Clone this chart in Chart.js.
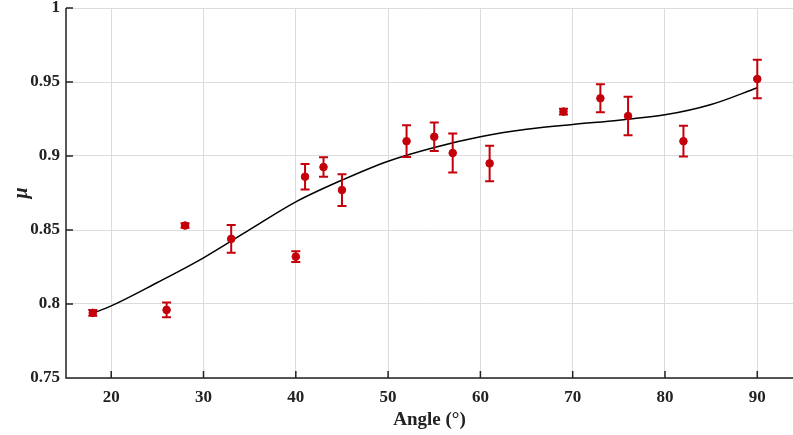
<!DOCTYPE html>
<html>
<head>
<meta charset="utf-8">
<script src="https://cdn.jsdelivr.net/npm/chart.js@4/dist/chart.umd.min.js"></script>
<style>
html,body{margin:0;padding:0;background:#fff;}
#wrap{width:793px;height:435px;position:relative;overflow:hidden;}
</style>
</head>
<body>
<div id="wrap"><canvas id="c" width="793" height="435"></canvas></div>
<script>
// Measured data (angle in degrees, friction coefficient mu, +/- error)
const angles = [18, 26, 28, 33, 40, 41, 43, 45, 52, 55, 57, 61, 69, 73, 76, 82, 90];
const muValues = [0.794, 0.796, 0.853, 0.844, 0.832, 0.886, 0.8925, 0.877, 0.910, 0.913, 0.902, 0.895, 0.930, 0.939, 0.927, 0.910, 0.952];
const muErrors = [0.002, 0.005, 0.0015, 0.0093, 0.0036, 0.0086, 0.0066, 0.0107, 0.0107, 0.0097, 0.0132, 0.012, 0.002, 0.0095, 0.013, 0.0104, 0.013];

// Fitted curve
const fitAngles = [18, 20, 25, 30, 35, 40, 45, 50, 55, 60, 65, 70, 75, 80, 85, 90];
const fitValues = [0.7938, 0.7987, 0.8145, 0.8312, 0.8502, 0.869, 0.8837, 0.8965, 0.9058, 0.913, 0.918, 0.9213, 0.9242, 0.9278, 0.9348, 0.9461];

// Axis ticks
const xTicks = [20, 30, 40, 50, 60, 70, 80, 90];
const yTicks = [0.75, 0.8, 0.85, 0.9, 0.95, 1];

const RED = '#c4000b';
const FONT = "'Liberation Serif', 'Times New Roman', serif";

const stretchRightPlugin = {
  id: 'stretchRight',
  afterLayout(chart) {
    const xs = chart.scales.x;
    const right = chart.width;
    xs.right = right;
    xs.width = right - xs.left;
    xs.configure();
    chart.chartArea.right = right;
    chart.chartArea.width = right - chart.chartArea.left;
  }
};

const errorBarPlugin = {
  id: 'errorBars',
  afterDatasetsDraw(chart) {
    const ctx = chart.ctx, xs = chart.scales.x, ys = chart.scales.y;
    ctx.save();
    ctx.strokeStyle = RED;
    ctx.lineWidth = 2;
    const cap = 4.5;
    angles.forEach((a, i) => {
      const px = xs.getPixelForValue(a);
      const top = ys.getPixelForValue(muValues[i] + muErrors[i]);
      const bot = ys.getPixelForValue(muValues[i] - muErrors[i]);
      ctx.beginPath();
      ctx.moveTo(px, top); ctx.lineTo(px, bot);
      ctx.moveTo(px - cap, top); ctx.lineTo(px + cap, top);
      ctx.moveTo(px - cap, bot); ctx.lineTo(px + cap, bot);
      ctx.stroke();
    });
    ctx.restore();
  }
};

const axesPlugin = {
  id: 'innerAxes',
  afterDraw(chart) {
    const ctx = chart.ctx, xs = chart.scales.x, ys = chart.scales.y, a = chart.chartArea;
    ctx.save();
    ctx.strokeStyle = '#222';
    ctx.lineWidth = 1.5;
    ctx.beginPath();
    ctx.moveTo(a.left, a.top); ctx.lineTo(a.left, a.bottom); ctx.lineTo(a.right, a.bottom);
    xTicks.forEach(t => { const p = xs.getPixelForValue(t); ctx.moveTo(p, a.bottom); ctx.lineTo(p, a.bottom - 7); });
    yTicks.forEach(t => { const p = ys.getPixelForValue(t); ctx.moveTo(a.left, p); ctx.lineTo(a.left + 7, p); });
    ctx.stroke();
    ctx.restore();
  }
};

new Chart(document.getElementById('c'), {
  type: 'scatter',
  data: {
    datasets: [
      {
        label: 'fit',
        type: 'line',
        data: fitAngles.map((x, i) => ({x, y: fitValues[i]})),
        borderColor: '#000',
        borderWidth: 1.5,
        pointRadius: 0,
        fill: false,
        cubicInterpolationMode: 'monotone',
        order: 2
      },
      {
        label: 'data',
        data: angles.map((x, i) => ({x, y: muValues[i]})),
        backgroundColor: RED,
        borderColor: RED,
        pointRadius: 3.8,
        pointHoverRadius: 3.8,
        order: 1
      }
    ]
  },
  options: {
    responsive: false,
    animation: false,
    events: [],
    layout: {padding: {top: 8, right: 0, left: 0, bottom: 0}},
    plugins: {legend: {display: false}, tooltip: {enabled: false}},
    scales: {
      x: {
        type: 'linear',
        min: 15.1,
        max: 93.87,
        afterBuildTicks: s => { s.ticks = xTicks.map(v => ({value: v})); },
        afterFit: s => { s.height = 57; s.paddingLeft = 0; s.paddingRight = 0; },
        grid: {color: '#dcdcdc', lineWidth: 1, drawTicks: false},
        border: {display: false},
        ticks: {color: '#222', padding: 9, font: {family: FONT, size: 17, weight: 'bold'}, maxRotation: 0},
        title: {display: true, text: 'Angle (°)', color: '#222', padding: {top: 2}, font: {family: FONT, size: 19, weight: 'bold'}}
      },
      y: {
        type: 'linear',
        min: 0.75,
        max: 1,
        afterBuildTicks: s => { s.ticks = yTicks.map(v => ({value: v})); },
        afterFit: s => { s.width = 66; s.paddingTop = 0; s.paddingBottom = 0; },
        grid: {color: '#dcdcdc', lineWidth: 1, drawTicks: false},
        border: {display: false},
        ticks: {color: '#222', padding: 6, font: {family: FONT, size: 17, weight: 'bold'},
          callback: v => String(Number(v.toFixed(2)))},
        title: {display: true, text: 'μ', color: '#222', padding: {top: 10, bottom: 0}, font: {family: FONT, size: 20, style: 'italic', weight: 'bold'}}
      }
    }
  },
  plugins: [stretchRightPlugin, errorBarPlugin, axesPlugin]
});
</script>
</body>
</html>
